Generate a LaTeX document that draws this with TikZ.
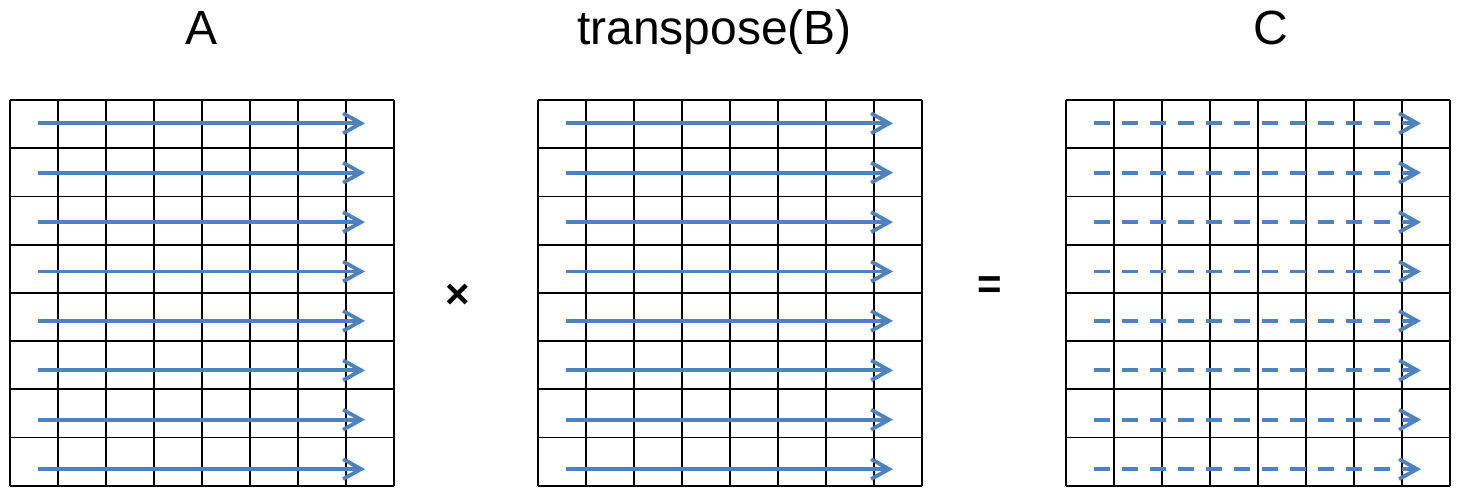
\documentclass[tikz,border=0pt]{standalone}
\usepackage{fontspec}
\setmainfont{Liberation Sans}
\usetikzlibrary{arrows.meta}
\definecolor{arrowblue}{HTML}{4F81BD}
\tikzset{
  gridline/.style={draw=black, line width=1.8pt},
  rowarrow/.style={draw=arrowblue, line width=3.8pt, -{Straight Barb[length=18pt,width=20pt,line width=3.8pt]}},
  dasharrow/.style={rowarrow, dash pattern=on 16pt off 12pt},
  title/.style={font=\fontsize{48}{56}\selectfont, anchor=base, inner sep=0pt},
  opsign/.style={font=\fontsize{42}{48}\selectfont\bfseries, anchor=base, inner sep=0pt}
}
\begin{document}
\begin{tikzpicture}[x=1pt,y=-1pt]
\useasboundingbox (0,0) rectangle (1458,487);
% titles
\node[title] (tA) at (201.5,45) {A};
\node[title] (tB) at (714.5,45) {transpose(B)};
\node[title] (tC) at (1271,45) {C};
% operators
\node[opsign] (times) at (458,308) {×};
\node[opsign] (eq) at (990,298) {=};
% grids
\foreach \gx/\nm in {10/A,538/B,1066/C}{
  \foreach \j in {0,...,8}{
    \draw[gridline] ({\gx+\j*48},100) -- ({\gx+\j*48},485.6);
  }
  \foreach \i in {0,...,8}{
    \draw[gridline] (\gx,{100+\i*48.2}) -- ({\gx+384},{100+\i*48.2});
  }
}
% arrows
\foreach \k in {0,...,7}{
  \coordinate (as\k) at (38,{123.3+\k*49.4});
  \coordinate (ae\k) at (365,{123.3+\k*49.4});
  \coordinate (bs\k) at (566,{123.3+\k*49.4});
  \coordinate (be\k) at (893,{123.3+\k*49.4});
  \coordinate (cs\k) at (1094,{123.3+\k*49.4});
  \coordinate (ce\k) at (1421,{123.3+\k*49.4});
  \draw[rowarrow] (as\k) -- (ae\k);
  \draw[rowarrow] (bs\k) -- (be\k);
  \draw[dasharrow] (cs\k) -- (ce\k);
}
\end{tikzpicture}
\end{document}
